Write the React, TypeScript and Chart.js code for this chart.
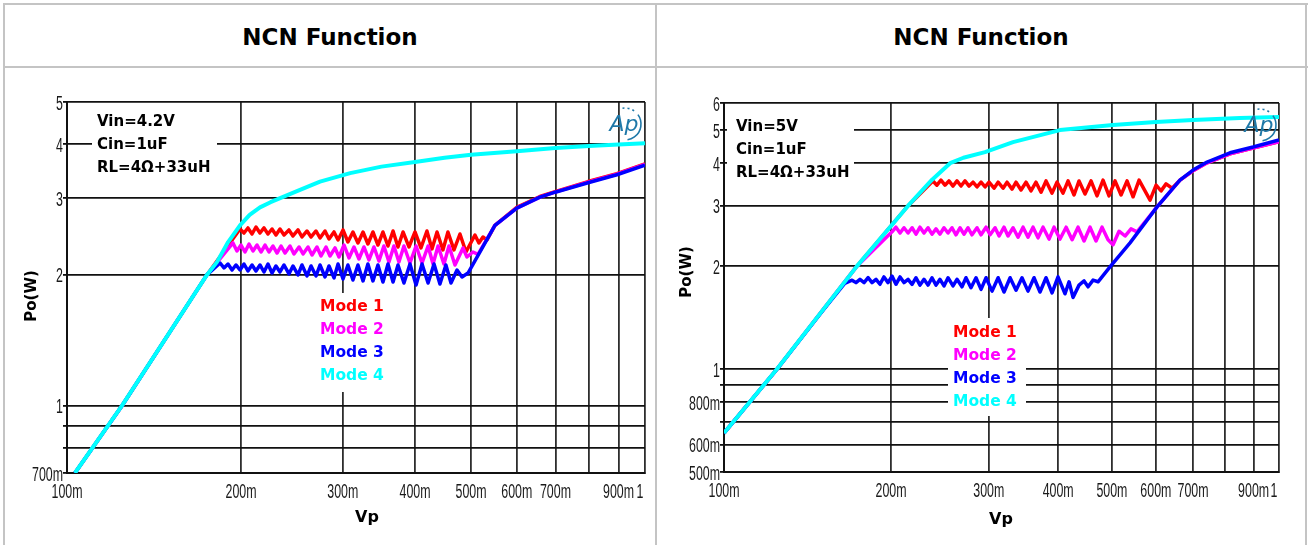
import React, { useEffect, useRef } from 'react';
import { Chart, registerables } from 'chart.js';
Chart.register(...registerables);

// ---------- tick values / labels ----------
const X_TICKS = [0.1, 0.2, 0.3, 0.4, 0.5, 0.6, 0.7, 0.8, 0.9, 1];
const X_TICK_LABELS = ['100m', '200m', '300m', '400m', '500m', '600m', '700m', '', '900m', '1'];
const A_Y_TICKS = [0.7, 0.8, 0.9, 1, 2, 3, 4, 5];
const A_Y_TICK_LABELS = ['700m', '', '', '1', '2', '3', '4', '5'];
const B_Y_TICKS = [0.5, 0.6, 0.7, 0.8, 0.9, 1, 2, 3, 4, 5, 6];
const B_Y_TICK_LABELS = ['500m', '600m', '', '800m', '', '1', '2', '3', '4', '5', '6'];

const TITLE = 'NCN Function';
const X_TITLE = 'Vp';
const Y_TITLE = 'Po(W)';
const MODE_NAMES = ['Mode 1', 'Mode 2', 'Mode 3', 'Mode 4'];
const MODE_COLORS = ['#ff0000', '#ff00ff', '#0000ff', '#00ffff'];
const A_NOTES = ['Vin=4.2V', 'Cin=1uF', 'RL=4Ω+33uH'];
const B_NOTES = ['Vin=5V', 'Cin=1uF', 'RL=4Ω+33uH'];

// ---------- left chart (Vin=4.2V) ----------
const A_M1_X = [0.1032, 0.1245, 0.1746, 0.1992, 0.2024, 0.2056, 0.209, 0.2123, 0.2157, 0.2192, 0.2227, 0.2263, 0.2299, 0.2336, 0.2374, 0.2421, 0.246, 0.251, 0.255, 0.2602, 0.2644, 0.2697, 0.274, 0.2795, 0.284, 0.2897, 0.2944, 0.3003, 0.3062, 0.3124, 0.3187, 0.3252, 0.3316, 0.3383, 0.3451, 0.3521, 0.3592, 0.3665, 0.3738, 0.3814, 0.3905, 0.4, 0.4096, 0.4195, 0.428, 0.4367, 0.4471, 0.4561, 0.4672, 0.4785, 0.4901, 0.5079, 0.516, 0.5244, 0.5329, 0.55, 0.6, 0.658, 0.699, 0.797, 0.894, 1.0];
const A_M1_Y = [0.7, 1.0, 2.0, 2.551, 2.497, 2.565, 2.484, 2.578, 2.497, 2.565, 2.484, 2.551, 2.471, 2.551, 2.471, 2.538, 2.458, 2.538, 2.445, 2.524, 2.445, 2.524, 2.432, 2.524, 2.419, 2.511, 2.406, 2.538, 2.381, 2.511, 2.369, 2.511, 2.356, 2.511, 2.343, 2.511, 2.331, 2.524, 2.319, 2.511, 2.319, 2.511, 2.307, 2.524, 2.295, 2.511, 2.283, 2.511, 2.283, 2.484, 2.258, 2.471, 2.369, 2.445, 2.406, 2.6, 2.86, 3.03, 3.11, 3.28, 3.42, 3.6];

const A_M2_X = [0.1032, 0.1245, 0.1746, 0.1937, 0.1968, 0.2, 0.2032, 0.2065, 0.2098, 0.2132, 0.2166, 0.2201, 0.2236, 0.2272, 0.2309, 0.2346, 0.2384, 0.2431, 0.247, 0.252, 0.2561, 0.2612, 0.2654, 0.2707, 0.2751, 0.2806, 0.2851, 0.2909, 0.2955, 0.3015, 0.3075, 0.3137, 0.32, 0.3264, 0.333, 0.3397, 0.3465, 0.3534, 0.3606, 0.3678, 0.3752, 0.3828, 0.3921, 0.4017, 0.4114, 0.4214, 0.4298, 0.4385, 0.4489, 0.458, 0.4691, 0.4843, 0.492, 0.5039, 0.5141, 0.55, 0.6, 0.658, 0.699, 0.797, 0.894, 1.0];
const A_M2_Y = [0.7, 1.0, 2.0, 2.369, 2.27, 2.343, 2.258, 2.356, 2.27, 2.343, 2.258, 2.343, 2.258, 2.331, 2.246, 2.331, 2.246, 2.331, 2.235, 2.319, 2.235, 2.319, 2.222, 2.319, 2.211, 2.319, 2.211, 2.307, 2.199, 2.343, 2.188, 2.319, 2.176, 2.319, 2.165, 2.319, 2.153, 2.331, 2.141, 2.331, 2.141, 2.331, 2.13, 2.331, 2.13, 2.331, 2.119, 2.331, 2.119, 2.331, 2.108, 2.307, 2.199, 2.258, 2.23, 2.6, 2.85, 3.02, 3.1, 3.27, 3.41, 3.59];

const A_M3_X = [0.1032, 0.1245, 0.1746, 0.184, 0.1869, 0.1899, 0.193, 0.196, 0.1992, 0.2024, 0.2056, 0.209, 0.2123, 0.2157, 0.2192, 0.2227, 0.2263, 0.2299, 0.2336, 0.2374, 0.2421, 0.246, 0.251, 0.255, 0.2602, 0.2644, 0.2697, 0.274, 0.2795, 0.284, 0.2897, 0.2944, 0.3003, 0.3062, 0.3124, 0.3187, 0.3252, 0.3316, 0.3383, 0.3451, 0.3521, 0.3592, 0.3665, 0.3738, 0.3828, 0.3921, 0.4017, 0.4114, 0.4214, 0.4315, 0.4418, 0.4524, 0.4617, 0.4729, 0.4824, 0.4941, 0.55, 0.6, 0.658, 0.699, 0.797, 0.894, 1.0];
const A_M3_Y = [0.7, 1.0, 2.0, 2.13, 2.075, 2.119, 2.053, 2.108, 2.053, 2.119, 2.042, 2.108, 2.042, 2.108, 2.031, 2.119, 2.02, 2.097, 2.031, 2.108, 2.01, 2.097, 2.0, 2.108, 1.989, 2.097, 1.989, 2.108, 1.978, 2.097, 1.968, 2.119, 1.957, 2.108, 1.947, 2.108, 1.937, 2.119, 1.937, 2.108, 1.926, 2.119, 1.926, 2.108, 1.916, 2.119, 1.896, 2.119, 1.916, 2.119, 1.906, 2.108, 1.916, 2.053, 1.978, 2.02, 2.6, 2.85, 3.02, 3.1, 3.26, 3.4, 3.58];

const A_M4_X = [0.1032, 0.1245, 0.1746, 0.1817, 0.19, 0.1992, 0.207, 0.2157, 0.225, 0.236, 0.253, 0.274, 0.309, 0.35, 0.4, 0.45, 0.5, 0.6, 0.7, 0.8, 0.9, 1.0];
const A_M4_Y = [0.7, 1.0, 2.0, 2.14, 2.38, 2.6, 2.75, 2.86, 2.94, 3.02, 3.14, 3.28, 3.43, 3.55, 3.64, 3.72, 3.78, 3.85, 3.92, 3.96, 3.99, 4.02];

// ---------- right chart (Vin=5V) ----------
const B_M1_X = [0.1, 0.1246, 0.1736, 0.2145, 0.2379, 0.2419, 0.246, 0.2501, 0.2543, 0.2586, 0.2629, 0.2673, 0.2718, 0.2764, 0.281, 0.2857, 0.2905, 0.2954, 0.3003, 0.3066, 0.3118, 0.3183, 0.3236, 0.3304, 0.3359, 0.3429, 0.3501, 0.3574, 0.3649, 0.3726, 0.3804, 0.39, 0.3981, 0.4082, 0.4168, 0.4273, 0.4362, 0.4472, 0.4585, 0.47, 0.4819, 0.494, 0.5065, 0.5193, 0.5324, 0.5458, 0.5596, 0.5857, 0.6005, 0.6131, 0.6259, 0.6418, 0.663, 0.7, 0.742, 0.816, 0.898, 1.0];
const B_M1_Y = [0.65, 1.0, 2.0, 3.0, 3.55, 3.45, 3.57, 3.45, 3.55, 3.43, 3.55, 3.43, 3.55, 3.43, 3.52, 3.41, 3.52, 3.41, 3.52, 3.38, 3.52, 3.38, 3.52, 3.36, 3.52, 3.34, 3.52, 3.32, 3.52, 3.29, 3.55, 3.27, 3.52, 3.27, 3.55, 3.23, 3.55, 3.25, 3.55, 3.21, 3.57, 3.21, 3.55, 3.23, 3.55, 3.19, 3.57, 3.12, 3.45, 3.32, 3.48, 3.38, 3.57, 3.8, 4.01, 4.26, 4.43, 4.62];

const B_M2_X = [0.1, 0.1246, 0.1736, 0.2008, 0.2041, 0.2076, 0.211, 0.2146, 0.2182, 0.2218, 0.2255, 0.2293, 0.2331, 0.237, 0.241, 0.245, 0.2491, 0.2533, 0.2575, 0.2618, 0.2662, 0.2706, 0.2752, 0.2798, 0.2857, 0.2905, 0.2966, 0.3016, 0.3079, 0.3131, 0.3196, 0.3249, 0.3318, 0.3387, 0.3458, 0.353, 0.3604, 0.368, 0.3757, 0.3852, 0.3933, 0.4031, 0.4135, 0.4239, 0.4344, 0.4454, 0.4566, 0.4681, 0.4799, 0.492, 0.5023, 0.515, 0.528, 0.5412, 0.5549, 0.603, 0.663, 0.7, 0.742, 0.816, 0.898, 1.0];
const B_M2_Y = [0.65, 1.0, 2.0, 2.52, 2.6, 2.5, 2.59, 2.5, 2.59, 2.48, 2.6, 2.5, 2.59, 2.48, 2.57, 2.48, 2.59, 2.5, 2.59, 2.47, 2.59, 2.48, 2.59, 2.47, 2.59, 2.47, 2.6, 2.47, 2.59, 2.45, 2.6, 2.45, 2.59, 2.43, 2.6, 2.43, 2.6, 2.42, 2.6, 2.4, 2.6, 2.4, 2.6, 2.39, 2.6, 2.37, 2.6, 2.37, 2.6, 2.39, 2.31, 2.53, 2.45, 2.57, 2.52, 2.98, 3.57, 3.8, 4.01, 4.26, 4.43, 4.62];

const B_M3_X = [0.1, 0.1246, 0.15, 0.165, 0.1701, 0.1729, 0.1758, 0.1788, 0.1818, 0.1848, 0.1879, 0.191, 0.1942, 0.1975, 0.2008, 0.2041, 0.2076, 0.211, 0.2146, 0.2182, 0.2218, 0.2255, 0.2293, 0.2331, 0.237, 0.241, 0.245, 0.2491, 0.2533, 0.2586, 0.2629, 0.2684, 0.2729, 0.2786, 0.2845, 0.2905, 0.2966, 0.3041, 0.3118, 0.3196, 0.3277, 0.3359, 0.3443, 0.353, 0.3619, 0.371, 0.3804, 0.39, 0.3998, 0.4116, 0.4185, 0.4255, 0.4362, 0.4454, 0.4529, 0.4624, 0.472, 0.496, 0.539, 0.603, 0.663, 0.7, 0.742, 0.816, 0.898, 1.0];
const B_M3_Y = [0.65, 1.0, 1.47, 1.78, 1.82, 1.79, 1.83, 1.79, 1.85, 1.79, 1.83, 1.77, 1.86, 1.79, 1.87, 1.77, 1.86, 1.79, 1.83, 1.77, 1.85, 1.76, 1.83, 1.76, 1.85, 1.76, 1.83, 1.75, 1.85, 1.75, 1.83, 1.74, 1.85, 1.73, 1.85, 1.71, 1.85, 1.69, 1.85, 1.68, 1.85, 1.7, 1.85, 1.69, 1.85, 1.68, 1.85, 1.67, 1.86, 1.66, 1.8, 1.62, 1.76, 1.81, 1.74, 1.82, 1.8, 1.99, 2.34, 2.98, 3.57, 3.82, 4.03, 4.29, 4.46, 4.68];

const B_M4_X = [0.1, 0.1246, 0.1736, 0.2145, 0.2371, 0.2555, 0.27, 0.2953, 0.3317, 0.403, 0.502, 0.6, 0.7, 0.85, 1.0];
const B_M4_Y = [0.65, 1.0, 2.0, 3.0, 3.58, 4.0, 4.15, 4.31, 4.61, 5.0, 5.17, 5.28, 5.35, 5.42, 5.46];

const TICK_FONT = '"Liberation Sans", Arial, sans-serif';
const BOLD_FONT = '"DejaVu Sans", "Liberation Sans", sans-serif';

type Spec = {
  left: number; top: number; w: number; h: number;
  padTop: number; padRight: number; yAxisW: number; xAxisH: number;
  yMin: number; yMax: number; yTicks: number[]; yLabels: string[];
  xs: number[][]; ys: number[][];
  notes: string[]; noteX: number; noteY: number;
  noteBox: number[]; legX: number; legY: number; legBox: number[];
  yTitle: number[]; xTitle: number[]; logo: number[];
};

const SPEC_A: Spec = {
  left: 5, top: 69, w: 650, h: 476, padTop: 33, padRight: 10, yAxisW: 62, xAxisH: 72,
  yMin: 0.7, yMax: 5, yTicks: A_Y_TICKS, yLabels: A_Y_TICK_LABELS,
  xs: [A_M1_X, A_M2_X, A_M3_X, A_M4_X], ys: [A_M1_Y, A_M2_Y, A_M3_Y, A_M4_Y],
  notes: A_NOTES, noteX: 92, noteY: 53, noteBox: [87, 36, 125, 80],
  legX: 315, legY: 238, legBox: [307, 224, 82, 99],
  yTitle: [27, 227], xTitle: [362, 449], logo: [622, 55],
};
const SPEC_B: Spec = {
  left: 658, top: 69, w: 648, h: 476, padTop: 34, padRight: 27, yAxisW: 66, xAxisH: 73,
  yMin: 0.5, yMax: 6, yTicks: B_Y_TICKS, yLabels: B_Y_TICK_LABELS,
  xs: [B_M1_X, B_M2_X, B_M3_X, B_M4_X], ys: [B_M1_Y, B_M2_Y, B_M3_Y, B_M4_Y],
  notes: B_NOTES, noteX: 78, noteY: 58, noteBox: [69, 37, 127, 79],
  legX: 295, legY: 264, legBox: [290, 249, 78, 98],
  yTitle: [29, 203], xTitle: [343, 451], logo: [604, 56],
};

function makeOverlay(s: Spec) {
  return {
    id: 'overlay',
    beforeDatasetsDraw(chart: any) {
      const ctx = chart.ctx;
      ctx.save();
      ctx.fillStyle = '#ffffff';
      ctx.fillRect(s.noteBox[0], s.noteBox[1], s.noteBox[2], s.noteBox[3]);
      ctx.fillRect(s.legBox[0], s.legBox[1], s.legBox[2], s.legBox[3]);
      ctx.restore();
    },
    afterDraw(chart: any) {
      const ctx = chart.ctx;
      const xs = chart.scales.x;
      const ys = chart.scales.y;
      const area = chart.chartArea;
      ctx.save();
      // tick labels (condensed)
      ctx.fillStyle = '#1a1a1a';
      ctx.font = '20px ' + TICK_FONT;
      ctx.textBaseline = 'middle';
      X_TICKS.forEach((v, i) => {
        const lab = X_TICK_LABELS[i];
        if (!lab) return;
        let px = xs.getPixelForValue(v);
        if (i === X_TICKS.length - 1) px -= 5;
        ctx.save();
        ctx.translate(px, area.bottom + 19);
        ctx.scale(0.62, 1);
        ctx.textAlign = 'center';
        ctx.fillText(lab, 0, 0);
        ctx.restore();
      });
      s.yTicks.forEach((v, i) => {
        const lab = s.yLabels[i];
        if (!lab) return;
        const py = ys.getPixelForValue(v);
        ctx.save();
        ctx.translate(area.left - 4, py + 2);
        ctx.scale(0.62, 1);
        ctx.textAlign = 'right';
        ctx.fillText(lab, 0, 0);
        ctx.restore();
      });
      // axis titles
      ctx.fillStyle = '#000';
      ctx.font = 'bold 16px ' + BOLD_FONT;
      ctx.textAlign = 'center';
      ctx.fillText(X_TITLE, s.xTitle[0], s.xTitle[1]);
      ctx.save();
      ctx.translate(s.yTitle[0], s.yTitle[1]);
      ctx.rotate(-Math.PI / 2);
      ctx.font = 'bold 15px ' + BOLD_FONT;
      ctx.fillText(Y_TITLE, 0, 0);
      ctx.restore();
      // notes
      ctx.textAlign = 'left';
      ctx.font = 'bold 15px ' + BOLD_FONT;
      s.notes.forEach((t, i) => ctx.fillText(t, s.noteX, s.noteY + i * 23));
      // legend
      ctx.font = 'bold 15.5px ' + BOLD_FONT;
      MODE_NAMES.forEach((t, i) => {
        ctx.fillStyle = MODE_COLORS[i];
        ctx.fillText(t, s.legX, s.legY + i * 23);
      });
      // Ap logo
      const [lx, ly] = s.logo;
      ctx.fillStyle = '#1f78a8';
      ctx.strokeStyle = '#1f78a8';
      ctx.font = 'italic 22px ' + BOLD_FONT;
      ctx.textAlign = 'center';
      ctx.fillText('Ap', lx - 3, ly + 1);
      ctx.lineWidth = 1.6;
      ctx.beginPath();
      ctx.arc(lx - 2, ly, 16, -Math.PI * 0.2, Math.PI * 0.45);
      ctx.stroke();
      ctx.setLineDash([2, 3]);
      ctx.beginPath();
      ctx.arc(lx - 2, ly, 16, -Math.PI * 0.55, -Math.PI * 0.25);
      ctx.stroke();
      ctx.restore();
    },
  };
}

function NcnChart({ spec }: { spec: Spec }) {
  const ref = useRef<HTMLCanvasElement>(null);
  useEffect(() => {
    const canvas = ref.current!;
    const datasets = spec.xs.map((xarr, i) => ({
      label: MODE_NAMES[i],
      data: xarr.map((x, j) => ({ x, y: spec.ys[i][j] })),
      borderColor: MODE_COLORS[i],
      backgroundColor: MODE_COLORS[i],
      borderWidth: i === 3 ? 4 : 3.5,
      pointRadius: 0,
      showLine: true,
      tension: 0,
      order: 3 - i,
      borderJoinStyle: 'round' as const,
    }));
    const chart = new Chart(canvas, {
      type: 'scatter',
      data: { datasets },
      plugins: [makeOverlay(spec)],
      options: {
        animation: false,
        responsive: false,
        devicePixelRatio: 1,
        layout: { padding: { left: 0, top: spec.padTop, right: spec.padRight, bottom: 0 } },
        plugins: { legend: { display: false }, tooltip: { enabled: false }, title: { display: false } },
        scales: {
          x: {
            type: 'logarithmic', min: 0.1, max: 1,
            afterBuildTicks: (sc: any) => { sc.ticks = X_TICKS.map((v) => ({ value: v })); },
            afterFit: (sc: any) => { sc.height = spec.xAxisH; },
            ticks: { display: false },
            grid: { color: '#2e2e2e', lineWidth: 1.8, drawTicks: false },
            border: { display: true, color: '#111', width: 2 },
          },
          y: {
            type: 'logarithmic', min: spec.yMin, max: spec.yMax,
            afterBuildTicks: (sc: any) => { sc.ticks = spec.yTicks.map((v) => ({ value: v })); },
            afterFit: (sc: any) => { sc.width = spec.yAxisW; },
            ticks: { display: false },
            grid: { color: '#111', lineWidth: 1.8, drawTicks: true, tickLength: 4 },
            border: { display: true, color: '#111', width: 2 },
          },
        },
      } as any,
    });
    return () => chart.destroy();
  }, [spec]);
  return (
    <canvas
      ref={ref}
      width={spec.w}
      height={spec.h}
      style={{ position: 'absolute', left: spec.left, top: spec.top, width: spec.w, height: spec.h }}
    />
  );
}

const LINE = '#c4c4c4';

export default function App() {
  const titleStyle = (cx: number): React.CSSProperties => ({
    position: 'absolute', left: cx - 200, width: 400, top: 22, height: 30, lineHeight: '30px',
    textAlign: 'center', fontFamily: BOLD_FONT, fontWeight: 'bold', fontSize: 23, color: '#000',
  });
  return (
    <div style={{ position: 'fixed', left: 0, top: 0, width: 1309, height: 545, background: '#fff', overflow: 'hidden' }}>
      <div style={{ position: 'absolute', left: 3, top: 3, width: 1305, height: 2, background: LINE }} />
      <div style={{ position: 'absolute', left: 3, top: 66, width: 1305, height: 2, background: LINE }} />
      <div style={{ position: 'absolute', left: 3, top: 3, width: 2, height: 545, background: LINE }} />
      <div style={{ position: 'absolute', left: 655, top: 3, width: 2, height: 545, background: LINE }} />
      <div style={{ position: 'absolute', left: 1305, top: 3, width: 2, height: 545, background: LINE }} />
      <div style={titleStyle(330)}>{TITLE}</div>
      <div style={titleStyle(981)}>{TITLE}</div>
      <NcnChart spec={SPEC_A} />
      <NcnChart spec={SPEC_B} />
    </div>
  );
}
